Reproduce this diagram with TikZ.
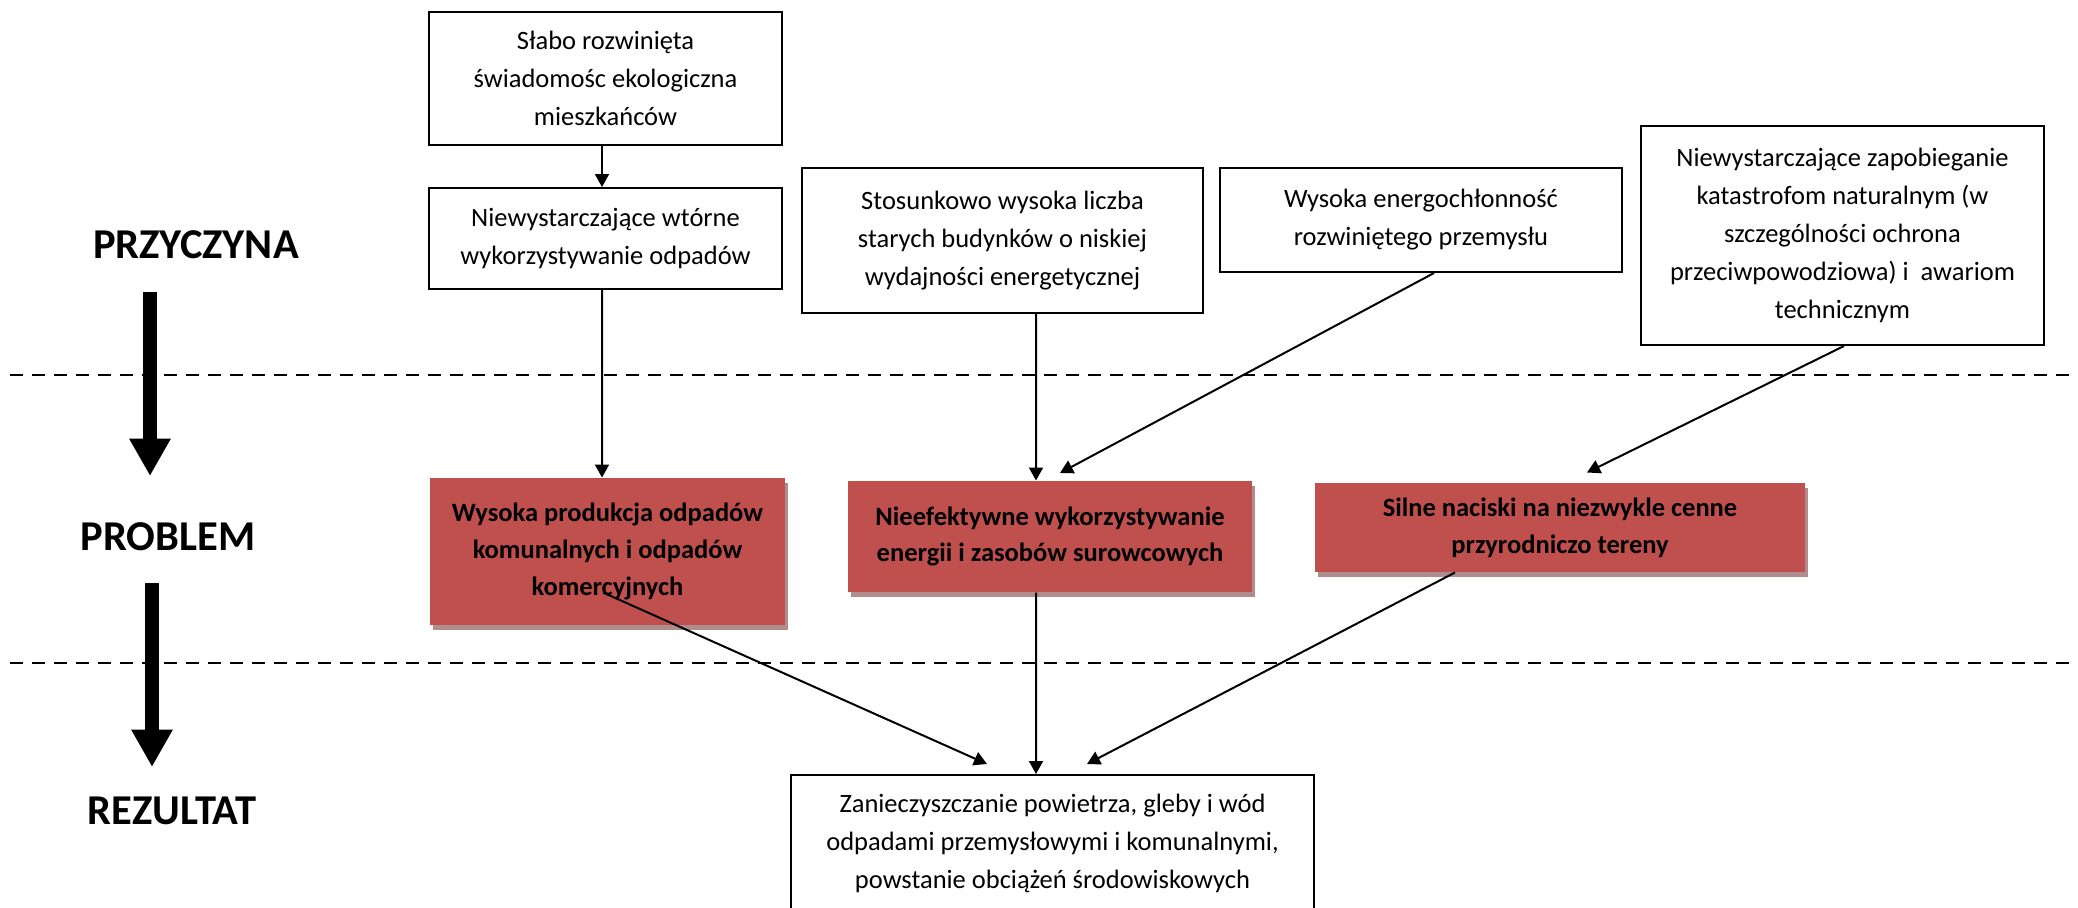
\documentclass[tikz,border=0pt]{standalone}
\usepackage{fontspec}
\setmainfont{Carlito}
\usetikzlibrary{arrows.meta,shadows}

\definecolor{probred}{HTML}{C0504D}
\definecolor{shadowred}{HTML}{B08C8C}

\tikzset{
  causebox/.style={draw, line width=0.8pt, align=center, inner sep=0pt, font=\fontsize{10.6}{15.2}\selectfont},
  probbox/.style={fill=probred, align=center, inner sep=0pt, font=\fontsize{10.6}{14.7}\selectfont\bfseries,
    drop shadow={shadow xshift=1.1pt, shadow yshift=-2pt, fill=shadowred, opacity=1}},
  conn/.style={line width=0.8pt, -{Triangle[width=5.6pt,length=5.2pt]}},
  levelarrow/.style={line width=5.6pt, -{Triangle[width=15.6pt,length=15pt]}},
  level/.style={font=\fontsize{17}{20}\selectfont\bfseries},
  divider/.style={line width=0.6pt, dash pattern=on 5.2pt off 3.6pt}
}

\begin{document}
\begin{tikzpicture}[x=0.4pt, y=-0.4pt]
\useasboundingbox (0,0) rectangle (2078,907);

% Levels
\node[level] (przyczyna) at (196,245) {PRZYCZYNA};
\node[level] (problem) at (168,537) {PROBLEM};
\node[level] (rezultat) at (172,811) {REZULTAT};
\coordinate (top1) at (150,292);
\coordinate (tip1) at (150,476);
\coordinate (top2) at (152,583);
\coordinate (tip2) at (152,767);
\draw[levelarrow] (top1) -- (tip1);
\draw[levelarrow] (top2) -- (tip2);

% Dividers
\draw[divider] (10,375) -- (2078,375);
\draw[divider] (10,663) -- (2078,663);

% Causes
\node[causebox, minimum width=141.2pt, minimum height=53.2pt] (swiadomosc) at (605.5,78.5)
  {Słabo rozwinięta\\świadomośc ekologiczna\\mieszkańców};
\node[causebox, minimum width=141.2pt, minimum height=40.4pt] (wtorne) at (605.5,238.5)
  {Niewystarczające wtórne\\wykorzystywanie odpadów};
\node[causebox, minimum width=160.4pt, minimum height=58pt] (budynki) at (1002.5,240.5)
  {Stosunkowo wysoka liczba\\starych budynków o niskiej\\wydajności energetycznej};
\node[causebox, minimum width=160.8pt, minimum height=41.6pt] (przemysl) at (1421,220)
  {Wysoka energochłonność\\rozwiniętego przemysłu};
\node[causebox, minimum width=161.2pt, minimum height=87.6pt] (katastrofy) at (1842.5,235.5)
  {Niewystarczające zapobieganie\\katastrofom naturalnym (w\\szczególności ochrona\\przeciwpowodziowa) i\ \ awariom\\technicznym};

% Problems
\node[probbox, minimum width=142pt, minimum height=58.8pt] (odpady) at (607.5,551.5)
  {Wysoka produkcja odpadów\\komunalnych i odpadów\\komercyjnych};
\node[probbox, minimum width=161.6pt, minimum height=44.4pt] (energia) at (1050,536.5)
  {Nieefektywne wykorzystywanie\\energii i zasobów surowcowych};
\node[probbox, minimum width=196pt, minimum height=35.6pt] (tereny) at (1560,527.5)
  {Silne naciski na niezwykle cenne\\przyrodniczo tereny};

% Result
\node[causebox, minimum width=209.2pt, minimum height=54.4pt] (skutek) at (1052.5,843)
  {Zanieczyszczanie powietrza, gleby i wód\\odpadami przemysłowymi i komunalnymi,\\powstanie obciążeń środowiskowych};

% Connectors
\draw[conn] ([xshift=-1.4pt]swiadomosc.south) -- ([xshift=-1.4pt]wtorne.north);
\draw[conn] ([xshift=-1.4pt]wtorne.south) -- ([xshift=-2.2pt]odpady.north);
\draw[conn] ([xshift=13.4pt]budynki.south) -- ([xshift=-5.6pt]energia.north);
\draw[conn] ([xshift=5.2pt]przemysl.south) -- ([xshift=4pt,yshift=3pt]energia.north);
\draw[conn] ([xshift=0.6pt]katastrofy.south) -- ([xshift=10.8pt,yshift=4pt]tereny.north);
\draw[conn] ([xshift=-1.8pt,yshift=13.2pt]odpady.south) -- ([xshift=-26.2pt,yshift=4pt]skutek.north);
\draw[conn] ([xshift=-5.6pt]energia.south) -- ([xshift=-6.6pt]skutek.north);
\draw[conn] ([xshift=-42pt]tereny.south) -- ([xshift=13.8pt,yshift=4pt]skutek.north);

\end{tikzpicture}
\end{document}
